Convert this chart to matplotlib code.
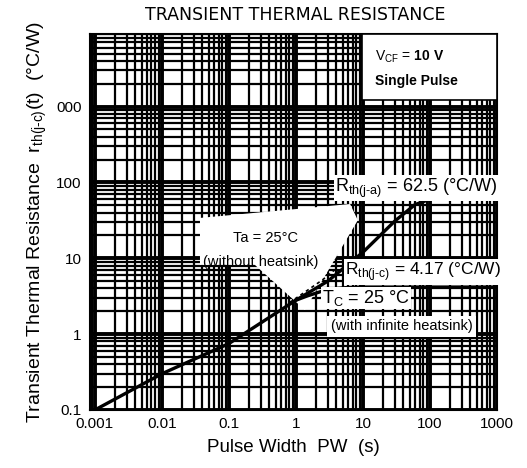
import matplotlib
matplotlib.use("Agg")
import matplotlib.pyplot as plt
import numpy as np
from matplotlib.patches import Polygon, Rectangle
from matplotlib.ticker import LogLocator, NullFormatter

plt.rcParams['font.family'] = ['Liberation Sans', 'DejaVu Sans']
plt.rcParams['mathtext.fontset'] = 'custom'
plt.rcParams['mathtext.rm'] = 'Liberation Sans'
plt.rcParams['mathtext.bf'] = 'Liberation Sans:bold'

# --- data ---
pw_ja = [0.001, 0.01, 0.1, 1, 3, 10, 30, 60, 100, 150, 1000]
rth_ja = [0.1, 0.3, 0.75, 2.8, 5.0, 12, 31, 51, 60, 62.5, 62.5]

pw_jc = [1, 1.5, 2.5, 4, 6, 10, 1000]
rth_jc = [2.8, 3.2, 3.7, 4.0, 4.12, 4.17, 4.17]

pw_dot = [0.8, 1.5, 2.5, 3.7]
rth_dot = [2.6, 3.8, 5.2, 6.9]

x_ticks = [0.001, 0.01, 0.1, 1, 10, 100, 1000]
x_ticklabels = ['0.001', '0.01', '0.1', '1', '10', '100', '1000']
y_ticks = [0.1, 1, 10, 100, 1000]
y_ticklabels = ['0.1', '1', '10', '100', '000']

fig = plt.figure(figsize=(5.27, 4.68), dpi=100)
ax = fig.add_axes([0.171, 0.124, 0.772, 0.803])
ax.set_xscale('log')
ax.set_yscale('log')
ax.set_xlim(0.00085, 1000)
ax.set_ylim(0.1, 9000)

subs = [2, 3, 4, 5, 6, 7, 8, 9]
ax.xaxis.set_minor_locator(LogLocator(base=10, subs=subs, numticks=50))
ax.yaxis.set_minor_locator(LogLocator(base=10, subs=subs, numticks=50))
ax.xaxis.set_minor_formatter(NullFormatter())
ax.yaxis.set_minor_formatter(NullFormatter())
ax.set_xticks(x_ticks)
ax.set_xticklabels(x_ticklabels)
ax.set_yticks(y_ticks)
ax.set_yticklabels(y_ticklabels)
ax.grid(which='major', color='black', linewidth=2.8, zorder=0)
ax.grid(which='minor', color='black', linewidth=1.6, zorder=0)
ax.set_axisbelow(True)
ax.tick_params(which='both', length=0, labelsize=11)
ax.tick_params(axis='x', pad=5)
ax.tick_params(axis='y', pad=6)
for s in ax.spines.values():
    s.set_linewidth(1.5)

# white patch behind the "Ta" note
poly = Polygon([(0.270, 0.511), (0.639, 0.548), (0.658, 0.505), (0.528, 0.266),
                (0.405, 0.386), (0.270, 0.386)], closed=True, transform=ax.transAxes,
               facecolor='white', edgecolor='none', zorder=1)
ax.add_patch(poly)

ax.plot(pw_ja, rth_ja, color='black', linewidth=2.4, zorder=3)
ax.plot(pw_jc, rth_jc, color='black', linewidth=2.4, zorder=3)
ax.plot(pw_dot, rth_dot, color='black', linewidth=1.2, linestyle=(0, (2, 2)), zorder=3)

# condition box
rect = Rectangle((0.668, 0.824), 0.332, 0.176, transform=ax.transAxes,
                 facecolor='white', edgecolor='black', linewidth=1.2, zorder=4)
ax.add_patch(rect)
ax.text(0.70, 0.94, r'V$_{\rm CF}$ = $\mathbf{10\ V}$', transform=ax.transAxes, fontsize=10,
        va='center', ha='left', zorder=5)
ax.text(0.70, 0.875, 'Single Pulse', transform=ax.transAxes, fontsize=10, fontweight='bold',
        va='center', ha='left', zorder=5)

wb = dict(facecolor='white', edgecolor='none', pad=1.0)
ax.text(0.602, 0.590, r'R$_{\rm th(j\text{-}a)}$ = 62.5 (°C/W)', transform=ax.transAxes,
        fontsize=13, va='center', ha='left', bbox=wb, zorder=5, clip_on=False)
ax.text(0.627, 0.367, r'R$_{\rm th(j\text{-}c)}$ = 4.17 (°C/W)', transform=ax.transAxes,
        fontsize=12.5, va='center', ha='left', bbox=wb, zorder=5)
ax.text(0.570, 0.298, r'T$_{\rm C}$ = 25 °C', transform=ax.transAxes,
        fontsize=13, va='center', ha='left', bbox=wb, zorder=5)
ax.text(0.592, 0.223, '(with infinite heatsink)', transform=ax.transAxes,
        fontsize=10.5, va='center', ha='left', bbox=dict(facecolor='white', edgecolor='none', pad=2.5), zorder=5)
ax.text(0.43, 0.457, 'Ta = 25°C', transform=ax.transAxes,
        fontsize=10.5, va='center', ha='center', zorder=5)
ax.text(0.42, 0.394, '(without heatsink)', transform=ax.transAxes,
        fontsize=10.5, va='center', ha='center', zorder=5)

fig.text(0.56, 0.968, 'TRANSIENT THERMAL RESISTANCE', ha='center', va='center', fontsize=12.5,
         family='DejaVu Sans')
ax.set_xlabel('Pulse Width  PW  (s)', fontsize=13.5, labelpad=6)
ax.set_ylabel(r'Transient Thermal Resistance  r$_{\rm th(j\text{-}c)}$(t)  (°C/W)',
              fontsize=14, labelpad=5)

fig.savefig('out.png', dpi=100)
